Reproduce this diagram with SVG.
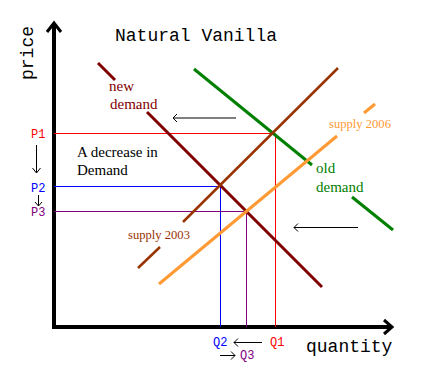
<svg xmlns="http://www.w3.org/2000/svg" width="425" height="384" viewBox="0 0 425 384">
<style>
.mono{font-family:"Liberation Mono","Courier New",monospace}
.serif{font-family:"Liberation Serif","Times New Roman",serif}
.thin{fill:none;stroke-width:1}
.arr{fill:none;stroke:#000;stroke-width:1}
</style>
<rect width="425" height="384" fill="#fff"/>
<g id="axes">
<path d="M54,23 V327 H391" fill="none" stroke="#000" stroke-width="4"/>
<path d="M47,32 L54,23 L61,32" fill="none" stroke="#000" stroke-width="3"/>
<path d="M384,320 L392,327 L384,334" fill="none" stroke="#000" stroke-width="3"/>
<text class="mono" font-size="18" transform="translate(33,53) rotate(-90)" text-anchor="middle">price</text>
<text class="mono" font-size="18" x="306" y="352">quantity</text>
</g>
<text id="title" class="mono" font-size="18" x="115" y="41">Natural Vanilla</text>
<g id="connectors">
<g id="guides" class="thin">
<path d="M54,133.5 H275.5 V327" stroke="#FF0000"/>
<path d="M54,186.5 H220.5 V327" stroke="#0000FF"/>
<path d="M54,211.5 H246.5 V327" stroke="#800080"/>
</g>
<g id="new-demand" stroke="#800000" stroke-width="3" fill="none">
<path d="M98,63 L115,80"/>
<path d="M147,112 L322,287"/>
</g>
<g id="old-demand" stroke="#008000" stroke-width="3" fill="none">
<path d="M194,69 L312,165"/>
<path d="M352,197 L393,230"/>
</g>
<g id="supply-2003" stroke="#993300" stroke-width="2.5" fill="none">
<path d="M138,268 L160,247"/>
<path d="M183,222 L338,68"/>
</g>
<g id="supply-2006" stroke="#FF9933" stroke-width="3" fill="none">
<path d="M159,284 L337,136"/>
<path d="M364,113 L375,104"/>
</g>
<g id="shift-arrows">
<path class="arr" d="M173,118 H236 M177,114 L173,118 L177,122"/>
<path class="arr" d="M294,227.5 H358 M298,223.5 L294,227.5 L298,231.5"/>
<path class="arr" d="M36.5,145 V173 M32.5,168 L36.5,173 L40.5,168"/>
<path class="arr" d="M38.5,195 V206 M35,202 L38.5,206 L42,202"/>
<path class="arr" d="M234,342.5 H262 M238,338.5 L234,342.5 L238,346.5"/>
<path class="arr" d="M220,355.5 H235 M231,351.5 L235,355.5 L231,359.5"/>
</g>
</g>
<g id="labels">
<text class="mono" font-size="12" x="31" y="138" fill="#FF0000">P1</text>
<text class="mono" font-size="12" x="31" y="192" fill="#0000FF">P2</text>
<text class="mono" font-size="12" x="31" y="216" fill="#800080">P3</text>
<text class="mono" font-size="12" x="213" y="346" fill="#0000FF">Q2</text>
<text class="mono" font-size="12" x="270" y="346" fill="#FF0000">Q1</text>
<text class="mono" font-size="12" x="240" y="359" fill="#800080">Q3</text>
<text class="serif" font-size="15" x="77" y="157">A decrease in</text>
<text class="serif" font-size="15" x="77" y="175">Demand</text>
<text class="serif" font-size="15" x="109" y="91" fill="#800000">new</text>
<text class="serif" font-size="15" x="110" y="109" fill="#800000">demand</text>
<text class="serif" font-size="15" x="316" y="173" fill="#008000">old</text>
<text class="serif" font-size="15" x="316" y="192" fill="#008000">demand</text>
<text class="serif" font-size="12.6" x="329" y="128" fill="#FF9933">supply 2006</text>
<text class="serif" font-size="12.6" x="128" y="239" fill="#993300">supply 2003</text>
</g>
</svg>
